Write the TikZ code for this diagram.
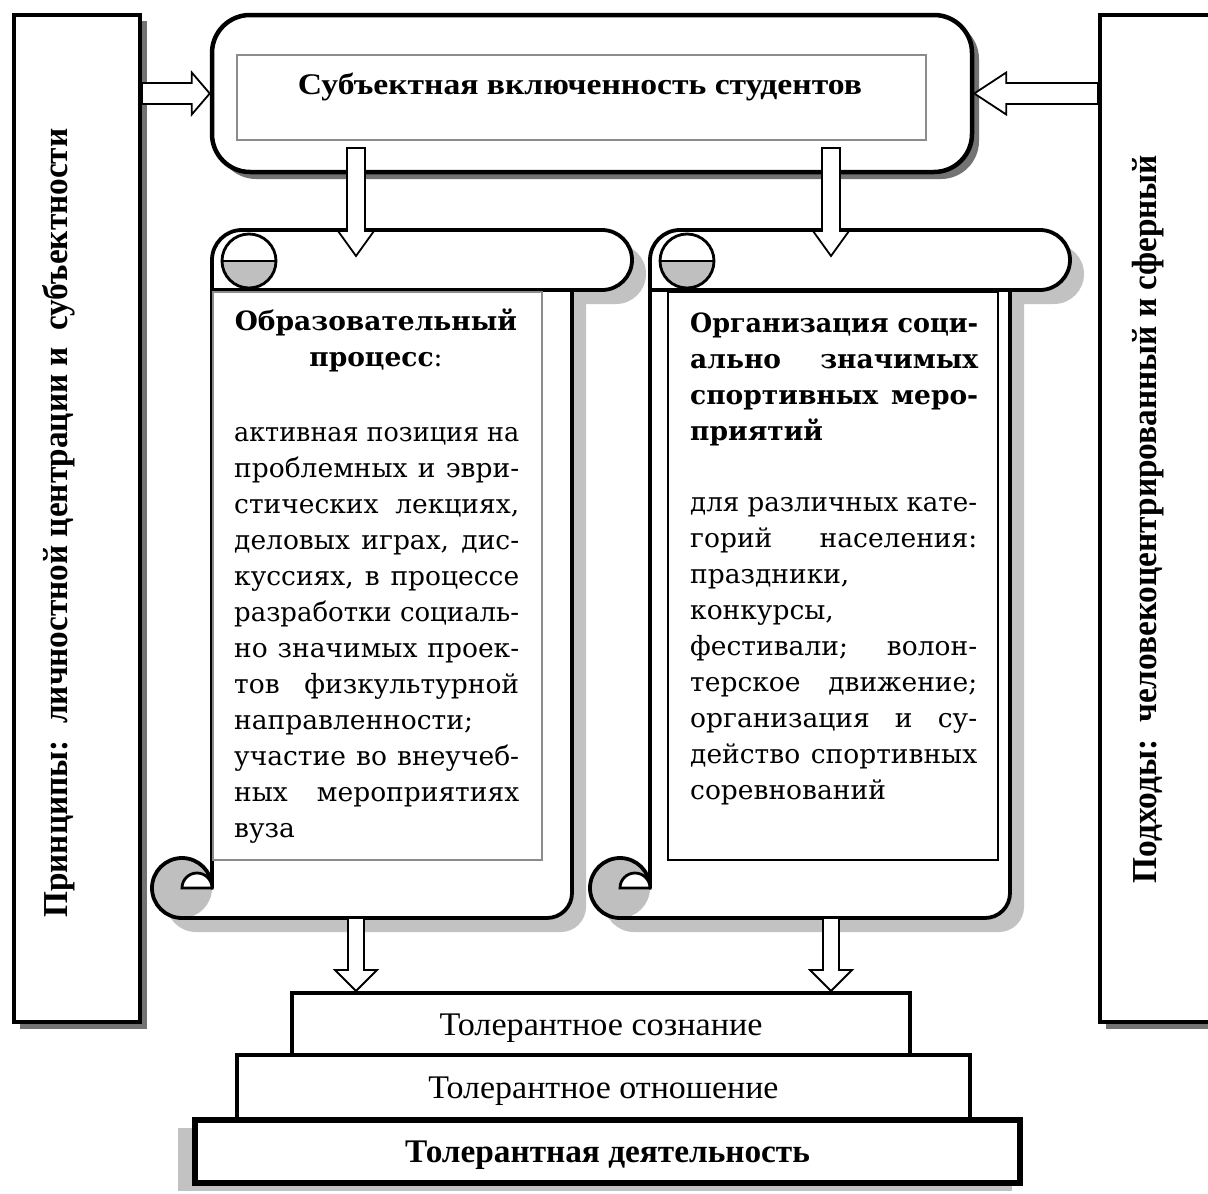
\documentclass[tikz,border=0pt]{standalone}
\usepackage{fontspec}
\setmainfont{Liberation Serif}
\newfontfamily\dvs{DejaVu Serif}
\usepackage{graphicx}
\usetikzlibrary{calc}
\newlength\linew
\newcommand\J[1]{\setbox0=\hbox{#1}\ifdim\wd0>\linew\hbox{\resizebox{\linew}{\height}{\copy0}}\else\hbox{\makebox[\linew][s]{#1}}\fi}
\newcommand\Lf[1]{\hbox{#1}}
\newcommand\Cn[1]{\hbox to\linew{\hfil#1\hfil}}
\tikzset{
 boxline/.style={draw=black, line width=4pt},
 shadowdark/.style={fill=black!55},
 shadowlight/.style={fill=black!24},
 scrollline/.style={draw=black, line width=3.8pt, line join=round},
 curlline/.style={draw=black, line width=2.8pt},
 curlfill/.style={fill=black!25},
 arrowbody/.style={fill=white, draw=black, line width=1.8pt, line join=miter},
 stepbox/.style={boxline, fill=white, inner sep=0, text height=22pt, text depth=0pt, font=\fontsize{33}{36}\selectfont},
 vtext/.style={rotate=90, anchor=base, inner sep=0, font=\bfseries\fontsize{35}{40}\selectfont},
 scrtext/.style={inner sep=0, font=\dvs\fontsize{26.5}{36}\selectfont}
}
\newcommand\barrow[5]{%
 \coordinate (ba-b) at ($(#2)!#5!(#1)$);
 \filldraw[arrowbody] ($(#1)!#3!90:(#2)$) -- ($(ba-b)!#3!90:(#2)$) -- ($(ba-b)!#4!90:(#2)$) -- (#2) -- ($(ba-b)!#4!-90:(#2)$) -- ($(ba-b)!#3!-90:(#2)$) -- ($(#1)!#3!-90:(#2)$) -- cycle;
}
\newcommand\drawscroll[2]{%
\begin{scope}[shift={(#1,#2)}]
 \fill[shadowlight, shift={(14,14)}] (60,658) -- (60,30) arc[start angle=180,end angle=270,radius=30] -- (450,0) arc[start angle=270,end angle=450,radius=30] -- (420,60) -- (420,663) arc[start angle=0,end angle=90,radius=25] -- (30,688) arc[start angle=90,end angle=360,radius=30] -- cycle;
 \fill[white] (60,658) -- (60,30) arc[start angle=180,end angle=270,radius=30] -- (450,0) arc[start angle=270,end angle=450,radius=30] -- (420,60) -- (420,663) arc[start angle=0,end angle=90,radius=25] -- (30,688) arc[start angle=90,end angle=360,radius=30] -- cycle;
 \fill[curlfill] (30,658) circle[radius=30];
 \draw[scrollline] (60,658) -- (60,30) arc[start angle=180,end angle=270,radius=30] -- (450,0) arc[start angle=270,end angle=450,radius=30] -- (420,60) -- (420,663) arc[start angle=0,end angle=90,radius=25] -- (30,688) arc[start angle=90,end angle=360,radius=30] -- cycle;
 \filldraw[curlline, fill=white] (30,658) arc[start angle=180,end angle=360,radius=15] -- cycle;
 \draw[scrollline] (60,60) -- (450,60);
 \fill[curlfill] (70,31) arc[start angle=180,end angle=0,radius=27] -- cycle;
 \draw[curlline] (97,31) circle[radius=27];
 \draw[curlline] (70,31) -- (124,31);
\end{scope}}
\begin{document}
\begin{tikzpicture}[x=1pt,y=-1pt]
\useasboundingbox (0,0) rectangle (1208,1194);
\fill[white] (0,0) rectangle (1208,1194);
% shadows
\fill[shadowdark] (20,21) rectangle (147,1029);
\fill[shadowdark] (1106,21) rectangle (1240,1029);
\fill[shadowdark, rounded corners=38pt] (218,21) rectangle (979,179);
\fill[shadowlight] (178,1128) rectangle (1012,1191);
% side boxes
\node[boxline, fill=white, minimum width=126pt, minimum height=1007pt, inner sep=0] (Lbox) at (77,518.5) {};
\node[boxline, fill=white, minimum width=130pt, minimum height=1007pt, inner sep=0] (Rbox) at (1165,518.5) {};
\node[vtext] (ltxt) at (67,523) {\resizebox{789pt}{\height}{Принципы:\ \ личностной центрации и\ \ субъектности}};
\node[vtext] (rtxt) at (1156,519) {\resizebox{728pt}{\height}{Подходы:\ \ человекоцентрированный и сферный}};
% top box
\node[boxline, line width=4.5pt, fill=white, rounded corners=38pt, minimum width=760pt, minimum height=157pt, inner sep=0] (Tbox) at (592,93.5) {};
\node[draw=black!45, line width=1.2pt, minimum width=689pt, minimum height=85pt, inner sep=0] (Tin) at (581.5,97.5) {};
\node[anchor=base, inner sep=0, font=\bfseries\fontsize{30}{36}\selectfont] (Ttext) at (580,94) {\resizebox{564pt}{\height}{Субъектная включенность студентов}};
% horizontal arrows
\coordinate (aL1) at (Lbox.east |- Tbox.west);
\barrow{aL1}{Tbox.west}{10.5pt}{21pt}{18pt}
\coordinate (aR1) at (Rbox.west |- Tbox.east);
\barrow{aR1}{Tbox.east}{10.5pt}{21pt}{32pt}
% scrolls
\drawscroll{152}{230}
\drawscroll{590}{230}
\node[draw=black!45, line width=1.2pt, minimum width=329pt, minimum height=568pt, inner sep=0] (s1in) at (377.5,576) {};
\node[draw=black, line width=1.3pt, minimum width=330pt, minimum height=568pt, inner sep=0] (s2in) at (833,576) {};
% down arrows from top box
\coordinate (d1s) at (356,148); \coordinate (d1t) at (356,256);
\coordinate (d2s) at (831,148); \coordinate (d2t) at (831,256);
\barrow{d1s}{d1t}{9pt}{18pt}{25pt}
\barrow{d2s}{d2t}{9pt}{18pt}{25pt}
% scroll texts
\node[scrtext, anchor=base] (s1title) at (376,330) {\vtop{\bfseries\baselineskip=36pt\lineskiplimit=-100pt\linew=300pt
 \Cn{Образовательный}\Cn{процесс{\mdseries:}}}};
\node[scrtext, anchor=base west] (s1body) at (234,441) {\vtop{\baselineskip=36pt\lineskiplimit=-100pt\linew=285pt
 \J{активная позиция на}
 \J{проблемных и эври-}
 \J{стических лекциях,}
 \J{деловых играх, дис-}
 \J{куссиях, в процессе}
 \J{разработки социаль-}
 \J{но значимых проек-}
 \J{тов физкультурной}
 \Lf{направленности;}
 \J{участие во внеучеб-}
 \J{ных мероприятиях}
 \Lf{вуза}}};
\node[scrtext, anchor=base west] (s2title) at (690,332) {\vtop{\bfseries\baselineskip=36pt\lineskiplimit=-100pt\linew=288pt
 \J{Организация соци-}
 \J{ально значимых}
 \J{спортивных меро-}
 \Lf{приятий}}};
\node[scrtext, anchor=base west] (s2body) at (690,511) {\vtop{\baselineskip=36pt\lineskiplimit=-100pt\linew=287pt
 \J{для различных кате-}
 \J{горий населения:}
 \Lf{праздники,}
 \Lf{конкурсы,}
 \J{фестивали; волон-}
 \J{терское движение;}
 \J{организация и су-}
 \J{действо спортивных}
 \Lf{соревнований}}};
% bottom steps
\node[stepbox, minimum width=618pt, minimum height=62pt] (B1) at (601,1024) {\resizebox{323pt}{\height}{Толерантное сознание}};
\node[stepbox, minimum width=733pt, minimum height=65pt] (B2) at (603.5,1087.5) {\resizebox{350pt}{\height}{Толерантное отношение}};
\node[stepbox, line width=6pt, minimum width=825pt, minimum height=63pt, font=\bfseries\fontsize{33}{36}\selectfont] (B3) at (607.5,1151.5) {\resizebox{405pt}{\height}{Толерантная деятельность}};
% down arrows to steps
\coordinate (d3s) at (356,918); \coordinate (d3t) at (d3s |- B1.north);
\coordinate (d4s) at (831,918); \coordinate (d4t) at (d4s |- B1.north);
\barrow{d3s}{d3t}{8pt}{21pt}{21pt}
\barrow{d4s}{d4t}{8pt}{21pt}{21pt}
\end{tikzpicture}
\end{document}
